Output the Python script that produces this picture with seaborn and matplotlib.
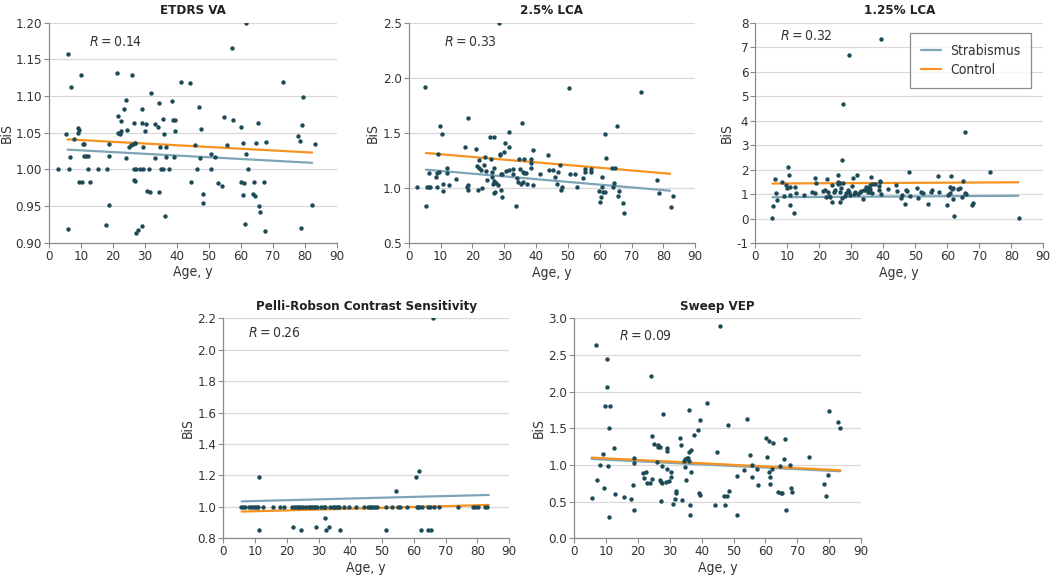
import numpy as np
import pandas as pd
import seaborn as sns
import matplotlib.pyplot as plt

# ETDRS VA
etdrs_age = [2.8, 5.4, 6.0, 6.1, 5.8, 6.6, 6.8, 7.7, 8.9, 9.0, 9.3, 9.4, 10.0, 10.3, 10.5, 11.0, 11.0, 11.4,
             12.3, 12.3, 12.8, 15.2, 17.7, 18.2, 18.6, 18.7, 18.7, 21.3, 21.7, 21.7, 22.1, 22.4, 22.4, 22.3,
             23.4, 24.1, 24.1, 24.3, 24.9, 25.7, 26.0, 26.1, 26.5, 26.7, 26.8, 26.7, 27.0, 27.0, 27.2, 27.2,
             27.8, 28.3, 28.9, 29.1, 29.2, 29.4, 29.4, 30.1, 30.4, 30.5, 31.1, 31.7, 32.0, 33.0, 33.2, 34.1,
             34.4, 34.4, 34.7, 35.1, 35.5, 35.7, 36.0, 36.3, 36.4, 36.5, 37.5, 38.4, 38.8, 39.0, 39.3, 39.4,
             41.1, 43.9, 44.4, 45.5, 46.3, 46.8, 47.2, 47.6, 48.0, 48.1, 50.6, 50.5, 52.0, 52.8, 54.0, 54.8,
             55.5, 57.3, 57.4, 60.0, 60.0, 60.5, 60.6, 61.0, 61.2, 61.6, 61.7, 62.1, 63.6, 64.2, 64.4, 64.7,
             65.4, 65.7, 65.8, 67.2, 67.5, 67.8, 73.2, 77.9, 78.3, 78.8, 79.2, 79.5, 82.2, 83.0]
etdrs_bis = [1.00, 1.048, 1.158, 1.00, 0.919, 1.017, 1.112, 1.042, 1.049, 1.056, 1.054, 0.983, 1.129, 0.983,
             1.034, 1.035, 1.018, 1.018, 1.00, 1.018, 0.983, 1.00, 0.924, 1.00, 1.018, 1.035, 0.951, 1.131,
             1.073, 1.050, 1.050, 1.066, 1.052, 1.048, 1.083, 1.095, 1.015, 1.054, 1.030, 1.033, 1.129, 1.035,
             0.985, 1.063, 1.036, 1.00, 0.984, 1.036, 1.00, 0.913, 0.918, 1.00, 1.064, 1.083, 0.923, 1.00,
             1.031, 1.052, 1.062, 0.971, 1.00, 0.969, 1.104, 1.062, 1.016, 1.058, 1.091, 0.969, 1.031, 1.00,
             1.069, 1.00, 1.048, 0.937, 1.031, 1.017, 1.00, 1.094, 1.068, 1.017, 1.068, 1.052, 1.119, 1.118,
             0.983, 1.033, 1.00, 1.085, 1.016, 1.055, 0.967, 0.954, 1.021, 1.00, 1.017, 0.982, 0.978, 1.072,
             1.033, 1.165, 1.068, 0.983, 1.058, 1.036, 0.965, 0.982, 0.926, 1.20, 1.021, 1.00, 0.966, 0.983,
             0.964, 1.036, 1.064, 0.950, 0.942, 0.983, 0.916, 1.038, 1.119, 1.046, 1.039, 0.920, 1.061, 1.099,
             0.952, 1.035]

# 2.5% LCA
lca25_age = [2.6, 5.2, 5.5, 5.9, 6.3, 6.4, 6.7, 8.6, 8.8, 9.0, 9.3, 9.6, 9.9, 10.4, 10.7, 10.9, 11.9, 12.0,
             12.6, 15.0, 17.6, 18.2, 18.5, 18.6, 18.6, 21.0, 21.5, 21.7, 22.2, 22.2, 22.7, 23.1, 23.7, 23.9,
             24.2, 24.6, 25.6, 26.0, 26.1, 26.2, 26.5, 26.7, 26.8, 26.8, 26.9, 27.0, 27.3, 27.9, 28.7, 28.7,
             28.9, 29.0, 29.2, 28.4, 29.3, 30.0, 30.3, 30.7, 31.5, 31.6, 31.4, 32.8, 32.9, 33.7, 34.1, 34.2,
             34.5, 35.1, 35.4, 35.7, 35.8, 35.9, 36.1, 36.3, 36.7, 37.2, 38.4, 38.4, 38.5, 39.0, 39.1, 41.1,
             43.6, 44.1, 45.4, 46.0, 46.7, 47.0, 47.5, 47.8, 48.1, 50.4, 50.6, 52.1, 52.8, 54.7, 55.4, 55.5,
             57.2, 57.3, 59.9, 60.1, 60.5, 60.8, 60.8, 61.0, 61.7, 61.8, 62.1, 63.7, 64.0, 64.5, 64.8, 65.5,
             65.7, 65.9, 67.2, 67.6, 73.1, 78.0, 78.7, 82.3, 83.0]
lca25_bis = [1.007, 1.914, 0.841, 1.007, 1.14, 1.007, 1.007, 1.10, 1.14, 1.007, 1.31, 1.146, 1.567, 1.49,
             1.035, 0.974, 1.18, 1.14, 1.03, 1.08, 1.376, 1.014, 1.032, 1.633, 0.983, 1.355, 1.204, 0.983,
             1.18, 1.255, 1.162, 1.005, 1.213, 1.285, 1.16, 1.074, 1.46, 1.267, 1.10, 1.146, 1.035, 0.956,
             1.46, 1.18, 1.065, 0.968, 1.044, 1.03, 1.31, 1.298, 0.983, 1.128, 0.917, 2.5, 1.125, 1.33,
             1.406, 1.152, 1.376, 1.509, 1.165, 1.131, 1.177, 0.838, 1.092, 1.059, 1.261, 1.174, 1.035,
             1.588, 1.053, 1.15, 1.261, 1.134, 1.134, 1.038, 1.264, 1.225, 1.183, 1.343, 1.032, 1.128,
             1.298, 1.168, 1.168, 1.098, 1.035, 1.143, 1.21, 0.98, 1.01, 1.908, 1.125, 1.128, 1.007, 1.092,
             1.171, 1.15, 1.171, 1.143, 0.977, 0.878, 0.92, 1.101, 1.007, 0.962, 1.488, 0.968, 1.273, 1.183,
             1.007, 1.047, 1.183, 1.56, 0.932, 0.977, 0.869, 0.775, 1.872, 1.077, 0.953, 0.832, 0.926]

# 1.25% LCA
lca125_age = [5.2, 5.6, 6.3, 6.5, 6.9, 8.5, 9.1, 9.5, 9.9, 10.2, 10.6, 10.9, 11.0, 11.0, 12.2, 12.4, 12.8,
              15.1, 17.8, 18.6, 18.8, 18.9, 21.3, 21.9, 22.2, 22.4, 22.6, 22.9, 23.5, 23.9, 24.1, 24.5, 24.8,
              25.7, 25.8, 26.0, 26.5, 26.6, 26.6, 26.9, 27.1, 27.3, 27.2, 27.3, 27.9, 28.5, 28.9, 29.3, 29.3,
              29.6, 30.2, 30.5, 30.8, 31.3, 31.8, 32.1, 32.8, 33.1, 33.8, 33.9, 34.5, 34.7, 35.1, 35.4, 35.7,
              35.8, 36.0, 36.3, 36.4, 36.5, 37.3, 38.6, 38.6, 39.0, 39.1, 39.3, 39.3, 41.4, 43.9, 44.4, 45.5,
              46.0, 46.8, 47.1, 47.5, 48.1, 48.3, 50.6, 50.8, 51.9, 52.5, 53.9, 54.8, 55.3, 57.1, 57.3, 59.9,
              60.3, 60.7, 60.9, 61.1, 61.5, 61.7, 61.9, 62.1, 63.5, 64.1, 64.5, 64.8, 65.5, 65.6, 65.7, 67.6,
              68.0, 73.2, 82.3]
lca125_bis = [0.03, 0.52, 1.64, 1.07, 0.77, 1.50, 0.93, 1.38, 1.24, 2.13, 1.80, 1.31, 0.96, 0.56, 0.22, 1.28,
              1.04, 0.96, 1.08, 1.04, 1.67, 1.47, 1.13, 1.18, 0.90, 1.64, 1.11, 0.93, 0.89, 0.70, 1.38, 1.08,
              1.19, 1.79, 1.52, 1.41, 1.11, 0.67, 1.46, 1.27, 2.39, 4.70, 0.84, 1.46, 0.94, 1.07, 1.18, 6.69,
              1.11, 0.99, 1.34, 1.65, 1.01, 1.09, 1.77, 1.03, 1.08, 1.13, 0.82, 1.16, 1.31, 1.19, 1.11, 1.27,
              1.38, 1.09, 1.20, 1.71, 1.07, 1.41, 1.43, 1.18, 1.35, 1.50, 1.56, 7.35, 1.00, 1.23, 1.39, 1.13,
              0.86, 0.96, 0.59, 1.18, 1.13, 1.90, 0.93, 1.27, 0.85, 1.11, 1.07, 0.62, 1.09, 1.19, 1.73, 1.09,
              0.55, 0.96, 1.07, 1.30, 1.73, 1.23, 0.81, 1.27, 0.12, 1.20, 1.26, 0.90, 1.56, 3.54, 1.07, 1.01,
              0.56, 0.63, 1.91, 0.03]

# Pelli-Robson Contrast Sensitivity
pelli_age = [5.6, 6.2, 6.7, 8.0, 8.7, 9.4, 10.0, 10.6, 11.1, 12.6, 15.6, 17.8, 19.2, 21.8, 22.3, 22.9, 23.4,
             23.9, 24.4, 25.0, 26.2, 26.9, 27.4, 27.9, 28.5, 29.0, 29.5, 30.8, 31.6, 32.2, 33.7, 34.5, 35.0,
             35.6, 36.1, 36.6, 38.0, 39.5, 41.8, 44.2, 45.6, 46.2, 46.6, 47.2, 47.8, 48.4, 51.2, 53.2, 55.1,
             55.8, 57.9, 60.9, 61.2, 61.7, 62.5, 64.4, 65.1, 66.5, 67.9, 74.0, 78.5, 79.2, 80.1, 82.5, 83.1,
             11.4, 11.2, 22.1, 24.6, 29.2, 32.0, 32.3, 33.4, 36.7, 51.1, 54.5, 60.6, 61.6, 62.4, 64.6, 65.3,
             66.2]
pelli_bis = [1.0] * 65 + [1.19, 0.85, 0.87, 0.85, 0.87, 0.93, 0.85, 0.87, 0.85, 0.85, 1.10, 1.19, 1.23,
                          0.85, 0.85, 0.85, 2.2]

# Sweep VEP
vep_age = [5.4, 6.8, 7.0, 7.9, 8.9, 9.2, 9.5, 10.1, 10.2, 10.6, 11.0, 11.0, 11.2, 12.5, 12.9, 15.5, 17.9,
           18.5, 18.8, 18.8, 18.8, 21.5, 21.9, 22.5, 22.7, 23.6, 24.2, 24.4, 24.5, 25.0, 25.9, 26.2, 26.4,
           26.8, 27.0, 27.1, 27.2, 27.4, 27.4, 27.7, 28.8, 29.0, 29.2, 29.2, 29.7, 30.4, 30.5, 30.9, 31.5,
           32.0, 32.0, 33.2, 33.5, 33.9, 34.5, 34.7, 34.8, 35.0, 35.3, 35.6, 35.9, 35.9, 36.1, 36.3, 36.4,
           36.5, 36.6, 37.7, 38.9, 39.1, 39.3, 39.6, 41.6, 44.1, 44.7, 45.8, 46.9, 47.4, 47.9, 48.3, 48.5,
           51.0, 51.1, 53.2, 54.2, 55.2, 55.8, 55.9, 57.5, 57.6, 60.3, 60.5, 61.0, 61.0, 61.3, 61.5, 62.2,
           62.5, 64.0, 64.6, 64.8, 65.2, 65.9, 66.1, 66.3, 67.6, 67.9, 68.3, 73.7, 78.4, 79.1, 79.5, 80.0,
           82.8, 83.4]
vep_bis = [0.55, 2.63, 0.80, 1.00, 1.15, 0.69, 1.80, 2.07, 2.45, 0.98, 0.29, 1.51, 1.81, 1.23, 0.60, 0.56,
           0.53, 0.72, 0.38, 1.09, 1.03, 0.89, 0.82, 0.91, 0.75, 0.75, 2.22, 0.81, 1.39, 1.29, 1.04, 1.25,
           1.27, 0.80, 1.25, 0.77, 0.51, 0.98, 0.75, 1.69, 0.77, 0.94, 1.23, 1.19, 0.78, 0.84, 0.91, 0.47,
           0.54, 0.65, 0.62, 1.37, 1.27, 0.52, 1.05, 0.97, 1.08, 0.79, 1.09, 1.10, 1.75, 1.18, 1.06, 0.32,
           0.45, 0.91, 1.20, 1.41, 1.47, 0.62, 1.61, 0.59, 1.85, 0.45, 1.18, 2.89, 0.58, 0.46, 0.58, 1.54,
           0.65, 0.32, 0.85, 0.93, 1.62, 1.13, 0.83, 1.00, 0.95, 0.73, 1.37, 1.11, 1.32, 0.90, 0.74, 0.84,
           0.94, 1.30, 0.63, 0.98, 0.62, 0.62, 1.08, 1.35, 0.38, 1.00, 0.68, 0.63, 1.11, 0.74, 0.57, 0.86,
           1.73, 1.59, 1.50]

# regression line end points (age start/end, BiS start/end) per panel
etdrs_line_x, etdrs_strab, etdrs_ctrl = [5.8, 82.2], [1.027, 1.009], [1.041, 1.023]
lca25_line_x, lca25_strab, lca25_ctrl = [5.4, 82.1], [1.168, 0.977], [1.319, 1.131]
lca125_line_x, lca125_strab, lca125_ctrl = [5.4, 82.2], [0.88, 0.94], [1.44, 1.49]
pelli_line_x, pelli_strab, pelli_ctrl = [5.8, 83.6], [1.035, 1.076], [0.97, 1.012]
vep_line_x, vep_strab, vep_ctrl = [5.4, 83.5], [1.082, 0.914], [1.10, 0.927]

titles = ["ETDRS VA", "2.5% LCA", "1.25% LCA", "Pelli-Robson Contrast Sensitivity", "Sweep VEP"]
r_labels = ["0.14", "0.33", "0.32", "0.26", "0.09"]

sns.set_theme(style="white")
plt.rcParams['font.family'] = ['DejaVu Sans']
plt.rcParams['font.stretch'] = 'condensed'
plt.rcParams['mathtext.fontset'] = 'custom'
plt.rcParams['mathtext.it'] = 'DejaVu Sans:italic'
plt.rcParams['axes.unicode_minus'] = False

dot_c = '#1d4a57'
strab_c = '#7ea5b7'
ctrl_c = '#f7921e'
grid_c = '#d9d9d9'
axis_c = '#8a8a8a'
text_c = '#333333'

fig = plt.figure(figsize=(10.5, 5.78), dpi=100)

panels = [
    dict(rect=[0.0467, 0.580, 0.2743, 0.3806], age=etdrs_age, bis=etdrs_bis, ylim=(0.90, 1.20),
         yticks=np.arange(0.90, 1.201, 0.05), fmt="{:.2f}", lx=etdrs_line_x, ls=etdrs_strab, lc=etdrs_ctrl,
         rpos=(0.139, 0.914)),
    dict(rect=[0.3892, 0.579, 0.2730, 0.3817], age=lca25_age, bis=lca25_bis, ylim=(0.5, 2.5),
         yticks=np.arange(0.5, 2.51, 0.5), fmt="{:.1f}", lx=lca25_line_x, ls=lca25_strab, lc=lca25_ctrl,
         rpos=(0.124, 0.914)),
    dict(rect=[0.7193, 0.579, 0.2743, 0.3817], age=lca125_age, bis=lca125_bis, ylim=(-1, 8),
         yticks=np.arange(-1, 9, 1), fmt="{:.0f}", lx=lca125_line_x, ls=lca125_strab, lc=lca125_ctrl,
         rpos=(0.086, 0.94)),
    dict(rect=[0.2126, 0.0687, 0.2722, 0.3806], age=pelli_age, bis=pelli_bis, ylim=(0.8, 2.2),
         yticks=np.arange(0.8, 2.21, 0.2), fmt="{:.1f}", lx=pelli_line_x, ls=pelli_strab, lc=pelli_ctrl,
         rpos=(0.088, 0.932)),
    dict(rect=[0.5470, 0.0687, 0.2730, 0.3806], age=vep_age, bis=vep_bis, ylim=(0.0, 3.0),
         yticks=np.arange(0.0, 3.01, 0.5), fmt="{:.1f}", lx=vep_line_x, ls=vep_strab, lc=vep_ctrl,
         rpos=(0.156, 0.92)),
]

for i, p in enumerate(panels):
    ax = fig.add_axes(p["rect"])
    pts = pd.DataFrame({"age": p["age"], "bis": p["bis"]})
    lines = pd.DataFrame({
        "age": p["lx"] + p["lx"],
        "bis": p["ls"] + p["lc"],
        "group": ["Strabismus"] * 2 + ["Control"] * 2,
    })
    sns.lineplot(data=lines, x="age", y="bis", hue="group", ax=ax, linewidth=1.6,
                 palette={"Strabismus": strab_c, "Control": ctrl_c}, legend=(i == 2), zorder=2)
    sns.scatterplot(data=pts, x="age", y="bis", ax=ax, color=dot_c, s=10, linewidth=0, zorder=3)

    ax.set_xlim(0, 90)
    ax.set_ylim(*p["ylim"])
    ax.set_xticks(range(0, 91, 10))
    ax.set_yticks(p["yticks"])
    ax.set_yticklabels([p["fmt"].format(v) for v in p["yticks"]])
    ax.yaxis.grid(True, color=grid_c, linewidth=0.9)
    ax.set_axisbelow(True)
    for s in ["top", "right"]:
        ax.spines[s].set_visible(False)
    for s in ["left", "bottom"]:
        ax.spines[s].set_color(axis_c)
        ax.spines[s].set_linewidth(0.9)
    ax.tick_params(axis="both", direction="out", length=3.5, width=0.8, color=axis_c,
                   labelsize=9.5, labelcolor=text_c, pad=1.5, left=True, bottom=True)
    ax.set_xlabel("Age, y", fontsize=10, color=text_c, labelpad=2)
    ax.set_ylabel("BiS", fontsize=10, color=text_c, labelpad=2)
    if i == 0:
        # keep the first label inside the figure edge
        ax.yaxis.set_label_coords(-0.124, 0.5)
    ax.set_title(titles[i], fontsize=9.5, fontweight="bold", color="#222222", pad=6)
    ax.text(p["rpos"][0], p["rpos"][1], r"$R$" + "\u2009=\u2009" + r_labels[i], transform=ax.transAxes,
            fontsize=10, color=text_c, va="center", ha="left")
    if i == 2:
        leg = ax.legend(loc="upper right", bbox_to_anchor=(0.958, 0.953), frameon=True, fancybox=False,
                        edgecolor="#6f6f6f", fontsize=10, handlelength=1.5, handletextpad=0.6,
                        borderpad=0.8, labelspacing=0.35, borderaxespad=0, title=None)
        leg.get_frame().set_linewidth(0.9)
        for t in leg.get_texts():
            t.set_color(text_c)

fig.savefig("out.png", dpi=100)
